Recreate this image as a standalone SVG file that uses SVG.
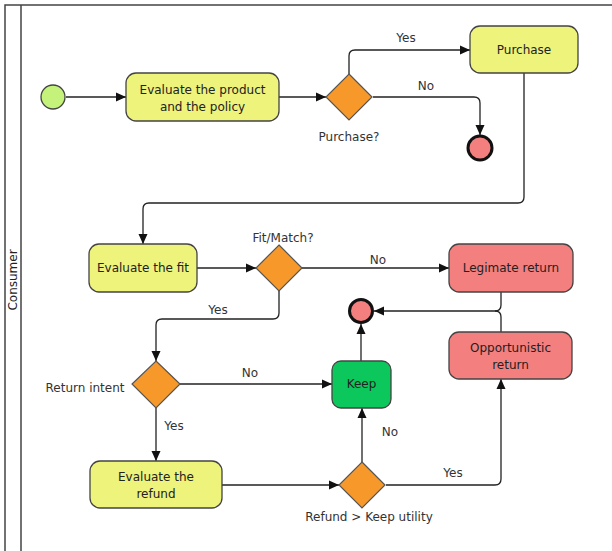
<svg xmlns="http://www.w3.org/2000/svg" width="612" height="551" viewBox="0 0 612 551">
<defs>
<marker id="arr" viewBox="0 0 10 10" refX="10" refY="5" markerWidth="10" markerHeight="10" markerUnits="userSpaceOnUse" orient="auto">
<path d="M0,0.5 L10,5 L0,9.5 Z" fill="#111"/>
</marker>
<style>
text{font-family:"DejaVu Sans","Liberation Sans",sans-serif;font-size:12px;fill:#222;text-anchor:middle}
.task{stroke:#444;stroke-width:1.3}
.yel{fill:#eef37b}
.red{fill:#f47f7f}
.grn{fill:#0cc85c}
.gw{fill:#f7982a;stroke:#555;stroke-width:1.2}
.edge{fill:none;stroke:#222;stroke-width:1.3}
.pool{fill:none;stroke:#444;stroke-width:1.5}
.lbl{fill:#333}
</style>
</defs>
<rect width="612" height="551" fill="#fff"/>
<g id="pool">
<path class="pool" d="M612,5 H5 V551 M21,5 V551"/>
<text transform="translate(17,280) rotate(-90)">Consumer</text>
</g>
<g id="connectors">
<path class="edge" d="M66,97 H126" marker-end="url(#arr)"/>
<path class="edge" d="M279,97 H326" marker-end="url(#arr)"/>
<path class="edge" d="M349,74 V56 Q349,50 355,50 H470" marker-end="url(#arr)"/>
<path class="edge" d="M373,97 H474 Q480,97 480,103 V135" marker-end="url(#arr)"/>
<path class="edge" d="M524,73 V197 Q524,203 518,203 H149 Q143,203 143,209 V244" marker-end="url(#arr)"/>
<path class="edge" d="M197,268 H256" marker-end="url(#arr)"/>
<path class="edge" d="M302,268 H449" marker-end="url(#arr)"/>
<path class="edge" d="M279,291 V313 Q279,319 273,319 H162 Q156,319 156,325 V361" marker-end="url(#arr)"/>
<path class="edge" d="M180,384 H332" marker-end="url(#arr)"/>
<path class="edge" d="M156,408 V461" marker-end="url(#arr)"/>
<path class="edge" d="M222,485 H339" marker-end="url(#arr)"/>
<path class="edge" d="M362,462 V408" marker-end="url(#arr)"/>
<path class="edge" d="M386,485 H495 Q501,485 501,479 V379" marker-end="url(#arr)"/>
<path class="edge" d="M361,361 V324" marker-end="url(#arr)"/>
<path class="edge" d="M501,292 V305 Q501,311 495,311 H374" marker-end="url(#arr)"/>
<path class="edge" d="M501,332 V317 Q501,311 495,311"/>
<text class="lbl" x="406" y="42">Yes</text>
<text class="lbl" x="426" y="90">No</text>
<text class="lbl" x="378" y="264">No</text>
<text class="lbl" x="218" y="314">Yes</text>
<text class="lbl" x="250" y="377">No</text>
<text class="lbl" x="174" y="430">Yes</text>
<text class="lbl" x="390" y="436">No</text>
<text class="lbl" x="453" y="477">Yes</text>
</g>
<g id="start"><circle cx="53" cy="97" r="12" fill="#c4f27a" stroke="#444" stroke-width="1.3"/></g>
<g id="evalProduct">
<rect class="task yel" x="126" y="73" width="153" height="48" rx="10"/>
<text x="202.5" y="94">Evaluate the product</text>
<text x="202.5" y="111">and the policy</text>
</g>
<g id="gwPurchase">
<path class="gw" d="M349,74 L372,97 L349,120 L326,97 Z"/>
<text class="lbl" x="349" y="141">Purchase?</text>
</g>
<g id="purchase">
<rect class="task yel" x="470" y="26" width="108" height="47" rx="10"/>
<text x="524" y="54">Purchase</text>
</g>
<g id="end1"><circle cx="480" cy="148" r="12" fill="#f47f7f" stroke="#111" stroke-width="3"/></g>
<g id="evalFit">
<rect class="task yel" x="89" y="244" width="108" height="48" rx="10"/>
<text x="143" y="272">Evaluate the fit</text>
</g>
<g id="gwFit">
<path class="gw" d="M279,245 L302,268 L279,291 L256,268 Z"/>
<text class="lbl" x="283" y="242">Fit/Match?</text>
</g>
<g id="legimate">
<rect class="task red" x="449" y="244" width="124" height="48" rx="10"/>
<text x="511" y="272">Legimate return</text>
</g>
<g id="end2"><circle cx="361" cy="311" r="11.5" fill="#f47f7f" stroke="#111" stroke-width="3"/></g>
<g id="opportunistic">
<rect class="task red" x="449" y="332" width="123" height="47" rx="10"/>
<text x="510.5" y="352">Opportunistic</text>
<text x="510.5" y="369">return</text>
</g>
<g id="gwReturn">
<path class="gw" d="M156,361 L180,384 L156,408 L132,384 Z"/>
<text class="lbl" x="85" y="392">Return intent</text>
</g>
<g id="keep">
<rect class="task grn" x="332" y="361" width="59" height="47" rx="9"/>
<text x="361.5" y="388">Keep</text>
</g>
<g id="evalRefund">
<rect class="task yel" x="90" y="461" width="132" height="47" rx="10"/>
<text x="156" y="481">Evaluate the</text>
<text x="156" y="498">refund</text>
</g>
<g id="gwRefund">
<path class="gw" d="M362,462 L385,485 L362,508 L339,485 Z"/>
<text class="lbl" x="369" y="521">Refund &gt; Keep utility</text>
</g>
</svg>
